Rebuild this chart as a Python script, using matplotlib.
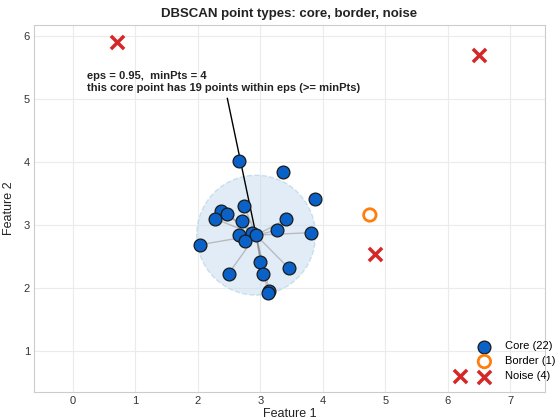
import numpy as np
import matplotlib.pyplot as plt
from matplotlib.patches import Circle

# core points (x, y)
core_x = [2.66, 3.36, 3.87, 2.74, 2.37, 2.46, 2.27, 2.70, 3.41, 3.27, 3.81,
          2.66, 2.86, 2.93, 2.75, 2.04, 3.00, 3.45, 2.49, 3.04, 3.14, 3.12]
core_y = [4.02, 3.84, 3.42, 3.30, 3.22, 3.18, 3.10, 3.06, 3.09, 2.92, 2.88,
          2.84, 2.88, 2.84, 2.75, 2.69, 2.42, 2.32, 2.23, 2.22, 1.96, 1.93]
border_x = [4.75]
border_y = [3.16]
noise_x = [0.70, 6.50, 4.84, 6.20]
noise_y = [5.90, 5.70, 2.54, 0.60]

eps = 0.95
min_pts = 4
center_idx = 13


def plot_dbscan():
    plt.rcParams['font.family'] = ['Liberation Sans', 'DejaVu Sans']
    fig = plt.figure(figsize=(5.6, 4.19), dpi=100)
    ax = fig.add_axes([0.061, 0.064, 0.912, 0.876])

    cx, cy = core_x[center_idx], core_y[center_idx]

    # eps neighbourhood
    circ = Circle((cx, cy), eps, facecolor="#c6dbef", alpha=0.5,
                  edgecolor="#9ecae1", linestyle="--", linewidth=1.0, zorder=1)
    ax.add_patch(circ)

    # lines to neighbours within eps
    xs = np.array(core_x + border_x)
    ys = np.array(core_y + border_y)
    d = np.hypot(xs - cx, ys - cy)
    n_in = int((d <= eps).sum())
    for x, y, dist in zip(xs, ys, d):
        if 0 < dist <= eps:
            ax.plot([cx, x], [cy, y], color="gray", alpha=0.45, lw=1.0, zorder=2)

    ax.scatter(core_x, core_y, s=85, c="#0a62c9", edgecolors="#1a1a1a",
               linewidths=0.9, zorder=4, label="Core (%d)" % len(core_x))
    ax.scatter(border_x, border_y, s=80, facecolors="none", edgecolors="#ff7f0e",
               linewidths=2.0, zorder=4, label="Border (%d)" % len(border_x))
    ax.scatter(noise_x, noise_y, s=90, marker="x", c="#d62728",
               linewidths=2.5, zorder=4, label="Noise (%d)" % len(noise_x))

    ax.annotate("eps = %.2f,  minPts = %d\nthis core point has %d points within eps (>= minPts)"
                % (eps, min_pts, n_in),
                xy=(cx, cy), xytext=(0.23, 5.27), ha="left", va="center",
                fontsize=8, fontweight="bold", color="#222222",
                arrowprops=dict(arrowstyle="-", color="black", lw=1.0), zorder=3)

    ax.set_xlim(-0.62, 7.55)
    ax.set_ylim(0.35, 6.17)
    ax.set_xticks(range(0, 8))
    ax.set_yticks(range(1, 7))
    ax.grid(True, color="#ebebeb", linewidth=0.8)
    ax.set_axisbelow(True)
    for s in ax.spines.values():
        s.set_color("#cccccc")
    ax.tick_params(length=0, labelsize=8, colors="#333333", pad=3)
    ax.set_xlabel("Feature 1", fontsize=9, color="#222222", labelpad=1)
    ax.set_ylabel("Feature 2", fontsize=9, color="#222222", labelpad=6)
    ax.set_title("DBSCAN point types: core, border, noise", fontsize=9.5,
                 fontweight="bold", color="#222222", pad=6)
    ax.legend(loc="lower right", bbox_to_anchor=(1.037, 0.008), frameon=False,
              fontsize=8, handletextpad=0.9, borderaxespad=0.3, labelspacing=0.45)

    fig.savefig("out.png", dpi=100)


if __name__ == "__main__":
    plot_dbscan()
